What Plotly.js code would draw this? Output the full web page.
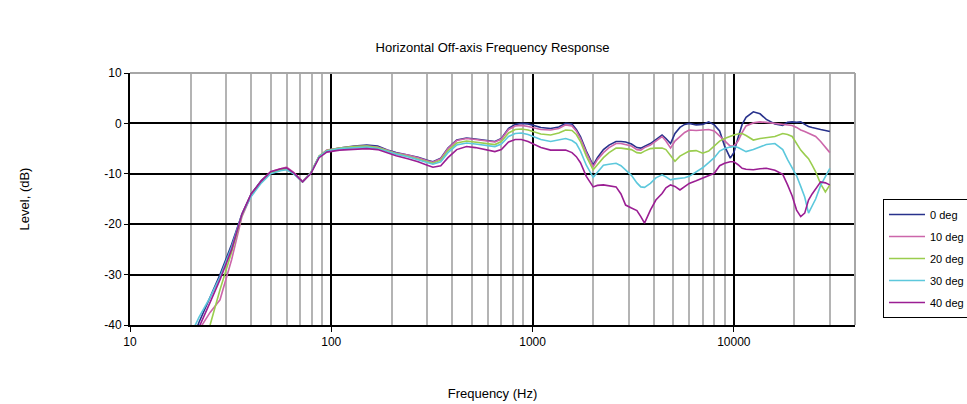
<!DOCTYPE html>
<html>
<head>
<meta charset="utf-8">
<script src="https://cdn.plot.ly/plotly-3.0.1.min.js"></script>
<style>
  html, body { margin: 0; padding: 0; background: #fff; }
  #chart { width: 967px; height: 404px; }
</style>
</head>
<body>
<div id="chart"></div>
<script>
// Frequencies (Hz)
const freq = [
  20, 22, 25, 28, 32, 36, 40, 45, 50, 56,
  60, 65, 72, 79, 87, 95, 110, 130, 150, 170,
  190, 210, 240, 270, 300, 320, 350, 380, 420, 470,
  520, 580, 650, 700, 760, 820, 880, 950, 1000, 1100,
  1230, 1350, 1460, 1570, 1650, 1730, 1850, 2000, 2100, 2250,
  2400, 2600, 2750, 2900, 3100, 3300, 3450, 3600, 3850, 4100,
  4400, 4600, 4850, 5100, 5400, 5700, 6000, 6500, 7000, 7500,
  8000, 8500, 9000, 9600, 10000, 10500, 11000, 11500, 12500, 13500,
  14500, 16000, 17500, 18500, 19500, 20500, 21500, 22500, 23500, 24500,
  25500, 27000, 28500, 30000
];

// Levels (dB)
const deg0 = [
  -44, -39.5, -34.5, -30, -24, -18, -14, -11.3, -9.7, -9.2,
  -8.9, -9.8, -11.6, -9.9, -6.6, -5.4, -4.9, -4.5, -4.3, -4.5,
  -5.3, -5.8, -6.2, -6.7, -7.3, -7.6, -6.9, -4.9, -3.3, -2.9,
  -3.1, -3.4, -3.6, -3.0, -1.0, -0.2, 0.0, -0.1, -0.3, -0.8,
  -1.0, -0.7, 0.0, -0.1, -1.2, -2.6, -5.5, -8.3, -6.8, -5.2,
  -4.3, -3.6, -3.6, -3.7, -4.1, -4.8, -4.9, -4.5, -4.0, -3.2,
  -2.3, -3.0, -4.0, -2.0, -0.8, -0.2, 0.0, -0.3, -0.2, 0.3,
  -0.3, -1.5, -4.5, -6.9, -5.8, -2.8, -0.2, 1.2, 2.3, 1.9,
  0.8, -0.1, -0.4, 0.2, 0.3, 0.2, 0.3, -0.2, -0.6, -0.8,
  -1.0, -1.2, -1.4, -1.6
];
const deg10 = [
  -46, -41, -37.5, -35, -27, -18.5, -14.3, -11.4, -9.6, -9.0,
  -8.7, -9.7, -11.5, -9.8, -6.5, -5.3, -4.9, -4.6, -4.5, -4.7,
  -5.4, -5.9, -6.3, -6.8, -7.4, -7.7, -7.0, -5.0, -3.4, -3.0,
  -3.2, -3.5, -3.7, -3.1, -1.2, -0.5, -0.4, -0.6, -0.8, -1.2,
  -1.3, -1.0, -0.3, -0.5, -1.5, -3.0, -5.8, -8.6, -7.2, -5.8,
  -4.8, -4.0, -4.0, -4.2, -4.5, -5.2, -5.3, -4.8, -4.3, -3.5,
  -2.6, -3.5, -4.9, -3.5, -2.6, -1.8, -1.3, -1.4, -1.3, -1.2,
  -1.5, -2.5, -3.6, -4.5, -4.5, -3.5, -1.8, -0.5, 0.1, 0.3,
  0.2, 0.0, -0.2, -0.3, -0.4, -0.8, -1.3, -1.6, -1.9, -2.2,
  -2.6, -3.6, -4.7, -5.8
];
const deg20 = [
  -52, -46, -40, -33, -25.5, -18.2, -14.2, -11.5, -9.8, -9.3,
  -9.0, -9.9, -11.6, -9.8, -6.5, -5.4, -4.9, -4.6, -4.5, -4.8,
  -5.5, -6.0, -6.5, -7.0, -7.6, -7.9, -7.3, -5.4, -3.9, -3.5,
  -3.7, -4.0, -4.2, -3.6, -1.9, -1.2, -1.1, -1.3, -1.6, -2.1,
  -2.3, -1.9, -1.3, -1.4, -2.2, -3.6, -6.5, -9.2, -8.2, -6.8,
  -5.8, -4.9, -4.9, -5.0, -5.2, -5.8, -5.9, -5.5, -5.0, -4.9,
  -4.9, -5.2, -6.3, -7.5, -6.5, -5.9, -5.5, -5.4, -5.9, -5.5,
  -4.5, -3.5, -3.0, -2.5, -2.3, -2.1, -2.0, -2.4, -3.3, -3.0,
  -2.8, -2.6, -2.0, -2.2, -2.6, -4.0, -5.3, -6.2, -7.0, -8.3,
  -9.6, -12.0, -13.6, -12.2
];
const deg30 = [
  -42, -38.5, -34.5, -30.5, -24.5, -18, -14.5, -11.8, -10.0, -9.4,
  -9.2, -10.0, -11.6, -9.9, -6.6, -5.5, -5.0, -4.8, -4.7, -5.0,
  -5.6, -6.1, -6.6, -7.2, -7.8, -8.1, -7.6, -5.8, -4.3, -3.9,
  -4.1, -4.4, -4.6, -4.1, -2.6, -2.0, -1.9, -2.2, -2.6, -3.2,
  -3.6, -3.3, -3.0, -3.4, -4.0, -5.5, -8.3, -10.7, -9.7, -8.3,
  -8.1, -7.9, -8.4, -9.2, -10.3, -11.8, -12.6, -12.7, -11.9, -10.8,
  -10.2, -10.6, -11.2, -11.0, -10.9, -10.8, -10.5, -9.6, -8.8, -7.8,
  -6.8, -5.5, -5.0, -4.7, -4.6, -4.8, -5.2, -5.6, -5.2, -4.6,
  -4.2, -4.0, -5.2, -7.2, -8.8, -10.4, -12.5, -14.6, -17.8, -16.5,
  -15.0, -12.3, -10.5, -8.9
];
const deg40 = [
  -45, -40.5, -35.5, -31, -25, -18, -14, -11.4, -9.6, -9.0,
  -8.8, -9.8, -11.6, -10.0, -6.8, -5.7, -5.3, -5.1, -5.0, -5.2,
  -5.9, -6.4, -7.0, -7.6, -8.3, -8.7, -8.4, -6.8, -5.2, -4.6,
  -4.8, -5.2, -5.6, -5.2, -3.7, -3.2, -3.2, -3.6, -4.0, -4.8,
  -5.3, -5.3, -5.3, -5.8, -6.6, -7.8, -10.5, -12.6, -12.3, -12.2,
  -12.4, -12.6, -14.0, -16.2, -16.8, -17.3, -18.5, -19.8, -17.2, -15.2,
  -13.9, -12.8, -12.2, -12.5, -13.2, -12.6, -11.9, -11.4, -10.9, -10.4,
  -9.9, -8.4, -7.9, -7.6, -7.6, -8.2, -8.9, -9.1, -9.2, -9.0,
  -8.9, -9.3, -10.1, -12.2, -14.4, -17.2, -18.5, -17.8, -15.2, -14.0,
  -12.9, -11.6, -11.8, -12.2
];

const seriesNames = ['0 deg', '10 deg', '20 deg', '30 deg', '40 deg'];
const seriesValues = [deg0, deg10, deg20, deg30, deg40];
const seriesColors = ['#28328C', '#CC66AA', '#9ACD4E', '#5CC8DC', '#9B1E93'];

const xTickVals = [10, 100, 1000, 10000];
const xTickText = ['10', '100', '1000', '10000'];
const yTickVals = [-40, -30, -20, -10, 0, 10];
const yTickText = ['-40', '-30', '-20', '-10', '0', '10'];

seriesValues.forEach((v, i) => {
  if (v.length !== freq.length) throw new Error(seriesNames[i] + ' length ' + v.length + ' vs ' + freq.length);
});

// minor grid positions (2..9 within each decade)
const minorVals = [];
[10, 100, 1000, 10000].forEach(d => {
  for (let k = 2; k <= 9; k++) { if (k * d < 40000) minorVals.push(k * d); }
});

const traces = seriesNames.map((name, i) => ({
  type: 'scatter',
  mode: 'lines',
  name: name,
  legendgroup: name,
  x: freq,
  y: seriesValues[i],
  line: { color: seriesColors[i], width: 1.6 },
  hoverinfo: 'x+y+name'
}));

const fam = '"Liberation Sans", Arial, sans-serif';
const font = { family: fam, size: 11, color: '#000' };

const layout = {
  width: 967,
  height: 404,
  margin: { l: 130, r: 112, t: 73, b: 79 },
  paper_bgcolor: '#fff',
  plot_bgcolor: '#fff',
  font: font,
  title: {
    text: 'Horizontal Off-axis Frequency Response',
    font: { family: fam, size: 13, color: '#000' },
    x: 0.5, xref: 'paper', xanchor: 'center',
    y: 1 - 47 / 404, yref: 'container', yanchor: 'middle'
  },
  showlegend: true,
  legend: {
    xref: 'container', yref: 'container',
    x: 883 / 967, xanchor: 'left',
    y: 1 - 199 / 404, yanchor: 'top',
    bordercolor: '#000', borderwidth: 1,
    bgcolor: '#fff',
    font: { family: fam, size: 11, color: '#000' },
    tracegroupgap: 3,
    itemwidth: 36
  },
  xaxis: {
    type: 'log',
    range: [1, Math.log10(40000)],
    automargin: false,
    tickmode: 'array',
    tickvals: xTickVals,
    ticktext: xTickText,
    showgrid: true,
    gridcolor: '#000',
    gridwidth: 2,
    showline: true,
    linecolor: '#000',
    linewidth: 2,
    ticks: 'outside',
    ticklen: 5,
    tickcolor: '#000',
    tickwidth: 1,
    zeroline: false,
    tickfont: { family: fam, size: 12, color: '#000' },
    minor: {
      tickmode: 'array',
      tickvals: minorVals,
      showgrid: true,
      gridcolor: '#B4B4B4',
      gridwidth: 2,
      ticks: ''
    },
    title: { text: 'Frequency (Hz)', font: { family: fam, size: 13, color: '#000' }, standoff: 40 }
  },
  yaxis: {
    range: [-40, 10],
    automargin: false,
    tickmode: 'array',
    tickvals: yTickVals,
    ticktext: yTickText,
    showgrid: true,
    gridcolor: '#000',
    gridwidth: 2,
    showline: true,
    linecolor: '#000',
    linewidth: 2,
    ticks: 'outside',
    ticklen: 4,
    tickcolor: '#000',
    zeroline: false,
    tickfont: { family: fam, size: 12, color: '#000' },
    title: { text: 'Level, (dB)', font: { family: fam, size: 13, color: '#000' }, standoff: 72 }
  },
  shapes: [
    { type: 'line', xref: 'paper', yref: 'paper', x0: 0, x1: 1, y0: 1, y1: 1,
      line: { color: '#A6A6A6', width: 2 }, layer: 'above' },
    { type: 'line', xref: 'paper', yref: 'paper', x0: 1, x1: 1, y0: 0, y1: 1,
      line: { color: '#A6A6A6', width: 2 }, layer: 'above' }
  ]
};

Plotly.newPlot('chart', traces, layout, { displayModeBar: false });
</script>
</body>
</html>
